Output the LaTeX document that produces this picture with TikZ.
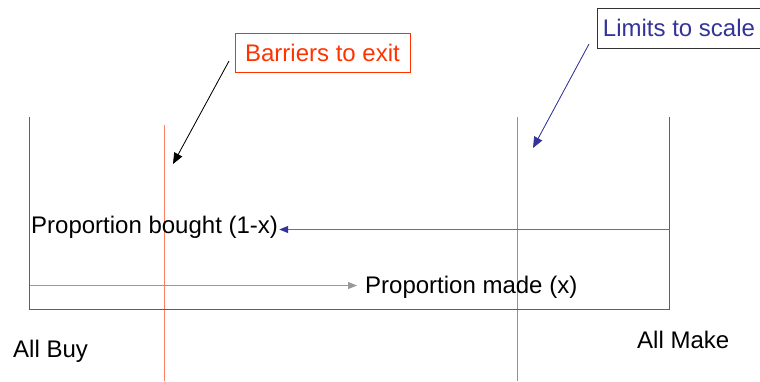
\documentclass[tikz,border=0pt]{standalone}
\usepackage{fontspec}
\setmainfont{Liberation Sans}
\usetikzlibrary{arrows.meta,calc}
\definecolor{framec}{HTML}{606060}
\definecolor{redtxt}{HTML}{FF3300}
\definecolor{vred}{HTML}{FF8060}
\definecolor{bluetxt}{HTML}{333399}
\definecolor{vblue}{HTML}{8A8ACC}
\definecolor{bluearr}{HTML}{6666BB}
\definecolor{grayarr}{HTML}{999999}
\tikzset{
  lbl/.style={inner sep=0pt, anchor=base west},
  framestyle/.style={draw=framec, line width=1bp},
  callout/.style={line width=0.8bp, -{Triangle[length=11bp,width=9bp]}},
  flowarrow/.style={line width=1bp},
}
\begin{document}
\begin{tikzpicture}[x=1bp,y=-1bp,font=\fontsize{24bp}{28bp}\selectfont]
\useasboundingbox (0,0) rectangle (760,381);
% vertical lines (thin filled strips)
\coordinate (btop) at (517,117);
\coordinate (bbot) at (518.2,381);
\fill[vblue] (btop) rectangle (bbot);
\coordinate (rtop) at (164,125);
\coordinate (rbot) at (165.2,381);
\fill[vred] (rtop) rectangle (rbot);
% frame
\coordinate (ul) at (29.5,117);
\coordinate (bl) at (29.5,309.5);
\coordinate (br) at (669.5,309.5);
\coordinate (ur) at (669.5,117);
\draw[framestyle] (ul) -- (bl) -- (br) -- (ur);
% callout boxes
\node[draw=redtxt, text=redtxt, line width=1bp, inner sep=0pt, minimum width=175bp, minimum height=39bp] (barr) at (322.5,52.5) {Barriers to exit};
\node[draw=black!80, text=bluetxt, line width=1bp, inner sep=0pt, minimum width=164bp, minimum height=40bp] (lim) at (679,28) {Limits to scale};
% callout arrows
\coordinate (barrTail) at (229,61);
\coordinate (barrTip) at (173,164);
\draw[callout, draw=black, fill=black] (barrTail) -- (barrTip);
\coordinate (limTail) at (589,44);
\coordinate (limTip) at (533,148);
\draw[callout, draw=bluetxt, fill=bluetxt] (limTail) -- (limTip);
% labels
\node[lbl] (bought) at (31,233) {Proportion bought (1-x)};
\node[lbl] (made) at (365,293) {Proportion made (x)};
\node[lbl] (buy) at (13,357) {All Buy};
\node[lbl] (make) at (637,348) {All Make};
% flow arrows
\coordinate (rstart) at (669.5,229.5);
\draw[flowarrow, draw=bluearr, -{Triangle[length=9bp,width=7bp,color=bluetxt]}] (rstart) -- ([xshift=1bp]bought.east |- rstart);
\coordinate (lstart) at (29.5,285.5);
\draw[flowarrow, draw=grayarr, -{Triangle[length=9bp,width=7bp,color=grayarr]}, shorten >=8bp] (lstart) -- (made.west |- lstart);
\end{tikzpicture}
\end{document}
